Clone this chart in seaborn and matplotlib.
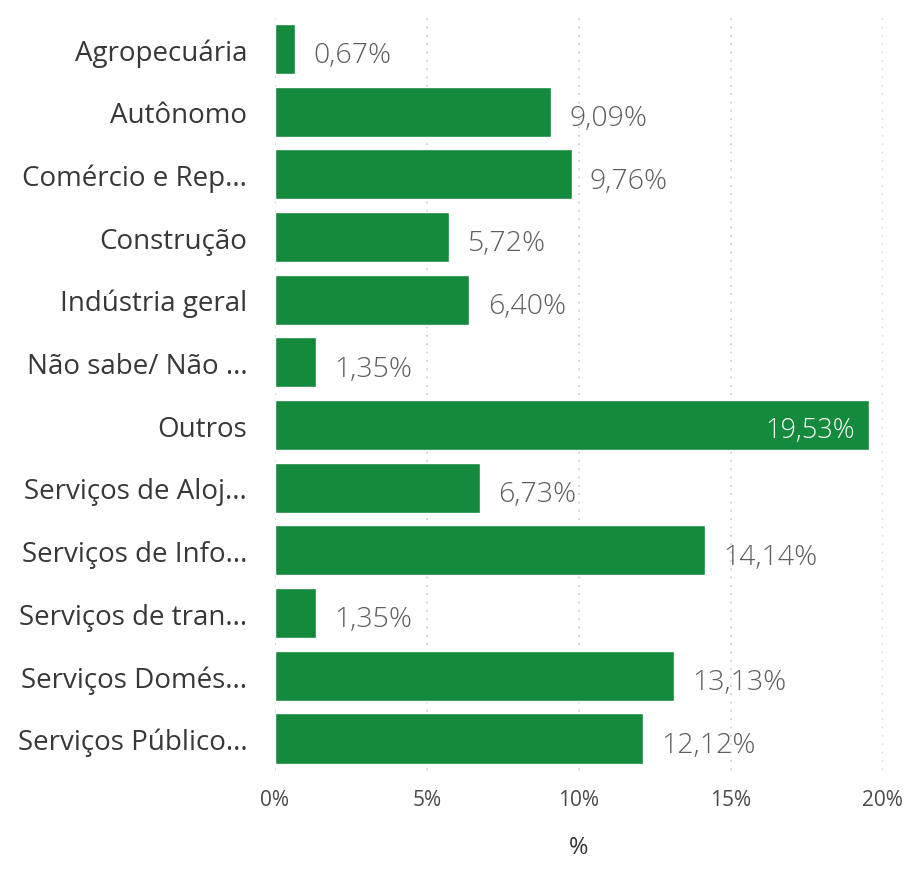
import matplotlib
matplotlib.use("Agg")
import matplotlib.pyplot as plt
import seaborn as sns
import pandas as pd

categorias = ["Agropecuária", "Autônomo", "Comércio e Rep...", "Construção",
              "Indústria geral", "Não sabe/ Não ...", "Outros", "Serviços de Aloj...",
              "Serviços de Info...", "Serviços de tran...", "Serviços Domés...",
              "Serviços Público..."]
valores = [0.67, 9.09, 9.76, 5.72, 6.40, 1.35, 19.53, 6.73, 14.14, 1.35, 13.13, 12.12]
ticks = [0, 5, 10, 15, 20]

df = pd.DataFrame({"cat": categorias, "val": valores})

sns.set_theme(style="white")
plt.rcParams['font.family'] = ['Open Sans', 'DejaVu Sans']

verde = "#138a3c"
fig = plt.figure(figsize=(9.12, 8.87), dpi=100)
ax = fig.add_axes([0.3015, 0.131, 0.6665, 0.848])

sns.barplot(data=df, x="val", y="cat", color=verde, saturation=1, width=0.8, ax=ax)

# etiquetas de valor
for i, v in enumerate(valores):
    txt = f"{v:.2f}".replace(".", ",") + "%"
    if v > 18:
        ax.text(v - 0.45, i + 0.08, txt, ha="right", va="center", color="white",
                fontsize=19.5, fontweight="light")
    else:
        ax.text(v + 0.6, i + 0.1, txt, ha="left", va="center", color="#5e5e5e",
                fontsize=20.5, fontweight="light")

ax.set_xlim(0, 20)
ax.set_xticks(ticks)
ax.set_xticklabels([f"{t}%" for t in ticks], color="#4a4a4a", fontsize=15)
ax.set_yticks(range(len(categorias)))
ax.set_yticklabels(categorias, fontsize=20, color="#383838")
ax.tick_params(axis="y", length=0, pad=20)
ax.tick_params(axis="x", length=0, pad=14)
ax.xaxis.grid(True, linestyle=(0, (1, 4)), color="#c8c8c8", linewidth=1.2)
ax.set_axisbelow(True)
for s in ax.spines.values():
    s.set_visible(False)
ax.set_ylabel("")
ax.set_xlabel("%", fontsize=17, color="#333333", labelpad=18)

fig.savefig("out.png", dpi=100)
